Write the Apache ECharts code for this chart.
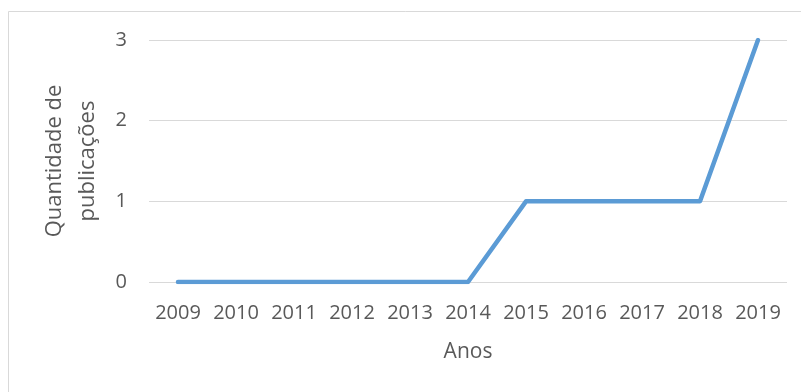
<!DOCTYPE html>
<html>
<head>
<meta charset="utf-8">
<script src="https://cdn.jsdelivr.net/npm/echarts@6/dist/echarts.min.js"></script>
<style>
  html, body { margin: 0; padding: 0; background: #fff; }
  #chart { width: 801px; height: 392px; }
</style>
</head>
<body>
<div id="chart"></div>
<script>
// Publicações por ano
const anos = ['2009', '2010', '2011', '2012', '2013', '2014', '2015', '2016', '2017', '2018', '2019'];
const publicacoes = [0, 0, 0, 0, 0, 0, 1, 1, 1, 1, 3];
const yTicks = [0, 1, 2, 3];

const chart = echarts.init(document.getElementById('chart'));
const fontFamily = '"Open Sans", sans-serif';
const textColor = '#595959';

chart.setOption({
  animation: false,
  backgroundColor: '#fff',
  graphic: [{
    type: 'rect',
    shape: { x: 8.5, y: 11.5, width: 800, height: 400 },
    style: { fill: 'none', stroke: '#d9d9d9', lineWidth: 1 },
    silent: true
  }],
  grid: { left: 149, right: 14, top: 40, bottom: 110 },
  xAxis: {
    type: 'category',
    data: anos,
    boundaryGap: true,
    axisLine: { show: false },
    axisTick: { show: false },
    axisLabel: { color: textColor, fontSize: 20, fontFamily, margin: 21, interval: 0, hideOverlap: false },
    name: 'Anos',
    nameLocation: 'middle',
    nameGap: 60,
    nameTextStyle: { color: textColor, fontSize: 21, fontFamily }
  },
  yAxis: {
    type: 'value',
    min: yTicks[0],
    max: yTicks[yTicks.length - 1],
    interval: 1,
    axisLine: { show: false },
    axisTick: { show: false },
    splitLine: { lineStyle: { color: '#d9d9d9', width: 1 } },
    axisLabel: { color: textColor, fontSize: 20, fontFamily, margin: 22 },
    name: 'Quantidade de\npublicações',
    nameLocation: 'middle',
    nameRotate: 90,
    nameGap: 42,
    nameTextStyle: { color: textColor, fontSize: 22, fontFamily, lineHeight: 33 }
  },
  series: [{
    type: 'line',
    data: publicacoes,
    symbol: 'none',
    lineStyle: { color: '#5b9bd5', width: 4.5, cap: 'round', join: 'round' }
  }]
});
</script>
</body>
</html>
